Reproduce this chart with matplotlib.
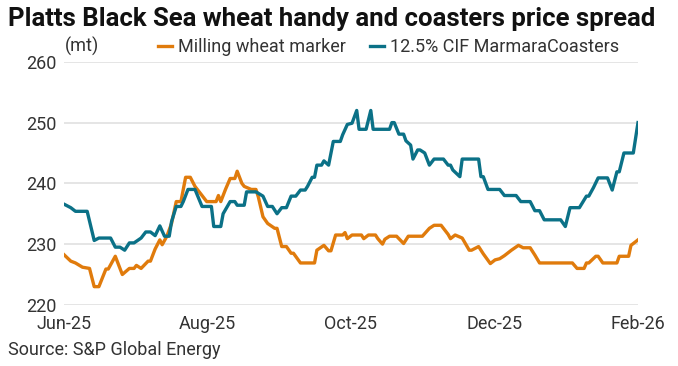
import numpy as np
import pandas as pd
import matplotlib.pyplot as plt
import matplotlib.dates as mdates

plt.rcParams['font.family'] = ['Roboto', 'DejaVu Sans']

# Milling wheat marker ($/mt)
wheat_dates = ['2025-06-02', '2025-06-05', '2025-06-07', '2025-06-10', '2025-06-13', '2025-06-15',
               '2025-06-17', '2025-06-20', '2025-06-21', '2025-06-24', '2025-06-27', '2025-06-30',
               '2025-07-02', '2025-07-03', '2025-07-05', '2025-07-08', '2025-07-09', '2025-07-11',
               '2025-07-13', '2025-07-14', '2025-07-16', '2025-07-18', '2025-07-20', '2025-07-22',
               '2025-07-24', '2025-07-26', '2025-07-28', '2025-07-31', '2025-08-02', '2025-08-06',
               '2025-08-07', '2025-08-08', '2025-08-10', '2025-08-12', '2025-08-14', '2025-08-15',
               '2025-08-17', '2025-08-18', '2025-08-21', '2025-08-23', '2025-08-24', '2025-08-26',
               '2025-08-28', '2025-08-31', '2025-09-01', '2025-09-03', '2025-09-05', '2025-09-07',
               '2025-09-08', '2025-09-11', '2025-09-17', '2025-09-18', '2025-09-21', '2025-09-23',
               '2025-09-24', '2025-09-26', '2025-09-29', '2025-09-30', '2025-10-01', '2025-10-03',
               '2025-10-07', '2025-10-08', '2025-10-10', '2025-10-13', '2025-10-14', '2025-10-16',
               '2025-10-17', '2025-10-19', '2025-10-22', '2025-10-25', '2025-10-27', '2025-11-02',
               '2025-11-05', '2025-11-07', '2025-11-10', '2025-11-13', '2025-11-14', '2025-11-16',
               '2025-11-19', '2025-11-22', '2025-11-23', '2025-11-26', '2025-11-28', '2025-12-01',
               '2025-12-03', '2025-12-05', '2025-12-07', '2025-12-10', '2025-12-13', '2025-12-15',
               '2025-12-18', '2025-12-20', '2025-12-22', '2026-01-05', '2026-01-07', '2026-01-10',
               '2026-01-11', '2026-01-12', '2026-01-15', '2026-01-16', '2026-01-18', '2026-01-24',
               '2026-01-25', '2026-01-29', '2026-01-30', '2026-02-02']
wheat_vals = [228.3, 227.2, 226.9, 226.2, 226.0, 223.0,
              223.0, 225.9, 225.9, 228.0, 225.0, 226.0,
              226.0, 226.5, 226.0, 227.2, 227.2, 229.2,
              230.7, 229.9, 231.3, 233.4, 237.0, 237.0,
              241.0, 241.0, 239.5, 238.0, 237.0, 237.0,
              238.0, 237.0, 239.0, 240.8, 240.8, 242.0,
              240.0, 239.5, 239.0, 239.0, 237.8, 234.5,
              233.4, 232.6, 232.6, 229.6, 229.6, 228.5,
              228.5, 226.9, 226.9, 229.0, 229.8, 228.9,
              228.9, 231.5, 231.5, 231.9, 230.9, 231.5,
              231.5, 230.9, 231.5, 231.5, 230.9, 230.0,
              230.8, 231.3, 231.3, 230.1, 231.3, 231.3,
              232.6, 233.1, 233.1, 231.6, 230.9, 231.5,
              231.0, 229.0, 229.0, 229.6, 228.4, 226.8,
              227.4, 227.6, 228.1, 229.0, 229.8, 229.4,
              229.4, 228.2, 226.9, 226.9, 226.0, 226.0,
              226.9, 226.9, 228.0, 228.0, 226.9, 226.9,
              228.0, 228.0, 229.8, 230.7]

# 12.5% CIF Marmara coasters ($/mt)
coast_dates = ['2025-06-02', '2025-06-05', '2025-06-07', '2025-06-12', '2025-06-15', '2025-06-17',
               '2025-06-22', '2025-06-24', '2025-06-26', '2025-06-28', '2025-06-30', '2025-07-02',
               '2025-07-05', '2025-07-07', '2025-07-09', '2025-07-11', '2025-07-13', '2025-07-15',
               '2025-07-17', '2025-07-18', '2025-07-20', '2025-07-22', '2025-07-23', '2025-07-25',
               '2025-07-28', '2025-07-31', '2025-08-04', '2025-08-05', '2025-08-08', '2025-08-09',
               '2025-08-12', '2025-08-14', '2025-08-15', '2025-08-18', '2025-08-19', '2025-08-23',
               '2025-08-26', '2025-08-28', '2025-08-30', '2025-09-01', '2025-09-03', '2025-09-05',
               '2025-09-07', '2025-09-09', '2025-09-11', '2025-09-13', '2025-09-14', '2025-09-16',
               '2025-09-17', '2025-09-18', '2025-09-20', '2025-09-21', '2025-09-23', '2025-09-25',
               '2025-09-28', '2025-09-29', '2025-10-01', '2025-10-03', '2025-10-05', '2025-10-06',
               '2025-10-09', '2025-10-11', '2025-10-12', '2025-10-19', '2025-10-20', '2025-10-21',
               '2025-10-23', '2025-10-25', '2025-10-26', '2025-10-28', '2025-10-29', '2025-10-31',
               '2025-11-01', '2025-11-03', '2025-11-05', '2025-11-07', '2025-11-11', '2025-11-13',
               '2025-11-14', '2025-11-15', '2025-11-18', '2025-11-19', '2025-11-26', '2025-11-27',
               '2025-11-28', '2025-11-30', '2025-12-05', '2025-12-07', '2025-12-12', '2025-12-14',
               '2025-12-18', '2025-12-20', '2025-12-22', '2025-12-24', '2025-12-31', '2026-01-02',
               '2026-01-04', '2026-01-08', '2026-01-11', '2026-01-12', '2026-01-14', '2026-01-16',
               '2026-01-20', '2026-01-22', '2026-01-24', '2026-01-25', '2026-01-27', '2026-01-31',
               '2026-02-02']
coast_vals = [236.6, 236.0, 235.4, 235.4, 230.6, 231.0,
              231.0, 229.5, 229.5, 229.0, 230.2, 230.2,
              231.0, 232.0, 232.0, 231.4, 233.0, 231.3,
              231.3, 233.7, 236.2, 236.2, 237.0, 239.0,
              239.0, 236.2, 236.2, 232.9, 232.9, 235.0,
              237.0, 237.0, 236.4, 236.4, 238.6, 238.6,
              237.9, 236.2, 236.2, 235.0, 236.0, 236.0,
              237.9, 237.9, 238.9, 238.9, 239.5, 241.0,
              241.0, 243.0, 243.0, 243.7, 243.0, 246.9,
              246.9, 248.0, 249.7, 249.9, 252.0, 248.9,
              248.9, 252.0, 248.9, 248.9, 250.0, 250.0,
              248.1, 248.1, 247.0, 246.3, 244.0, 245.5,
              245.5, 245.0, 243.0, 244.0, 244.0, 243.0,
              243.0, 242.2, 241.1, 244.0, 244.0, 241.1,
              241.1, 239.0, 239.0, 238.0, 238.0, 237.0,
              237.0, 235.5, 235.5, 234.0, 234.0, 232.9,
              236.0, 236.0, 237.9, 237.9, 239.3, 240.9,
              240.9, 238.9, 241.9, 241.9, 245.0, 245.0,
              250.0]

wheat_x = pd.to_datetime(wheat_dates)
coast_x = pd.to_datetime(coast_dates)

orange = '#E07B0C'
teal = '#0B7187'
txt = '#333333'

fig = plt.figure(figsize=(6.78, 3.66), dpi=100)
ax = fig.add_axes([0.094, 0.167, 0.847, 0.664])

ax.plot(wheat_x, wheat_vals, color=orange, linewidth=2.4, label='Milling wheat marker',
        solid_joinstyle='round', zorder=3)
ax.plot(coast_x, coast_vals, color=teal, linewidth=2.4, label='12.5% CIF MarmaraCoasters',
        solid_joinstyle='round', zorder=3)

start = pd.Timestamp('2025-06-02')
end = pd.Timestamp('2026-02-02')
ax.set_xlim(start, end)
ax.set_ylim(220, 260)
ax.set_yticks([220, 230, 240, 250, 260])
ticks = pd.date_range(start, end, periods=5)
ax.set_xticks(ticks)
ax.xaxis.set_major_formatter(mdates.DateFormatter('%b-%y'))

ax.grid(axis='y', color='#e3e3e3', linewidth=1.3)
ax.set_axisbelow(True)
for s in ax.spines.values():
    s.set_visible(False)
ax.tick_params(axis='both', length=0, labelsize=13, colors=txt)
ax.tick_params(axis='y', pad=5)
ax.tick_params(axis='x', pad=7)

fig.text(0.012, 0.948, 'Platts Black Sea wheat handy and coasters price spread',
         fontsize=18.5, fontweight='bold', color='#111111', va='center')
fig.text(0.096, 0.872, '(mt)', fontsize=13, color=txt, va='center')
ax.legend(loc='center left', bbox_to_anchor=(0.233, 0.872), bbox_transform=fig.transFigure,
          ncol=2, frameon=False, fontsize=13, handlelength=0.78, handletextpad=0.35,
          columnspacing=1.3, labelcolor=txt, borderaxespad=0, borderpad=0)
fig.text(0.012, 0.045, 'Source: S&P Global Energy', fontsize=13, color=txt, va='center')

fig.savefig('out.png', dpi=100)
